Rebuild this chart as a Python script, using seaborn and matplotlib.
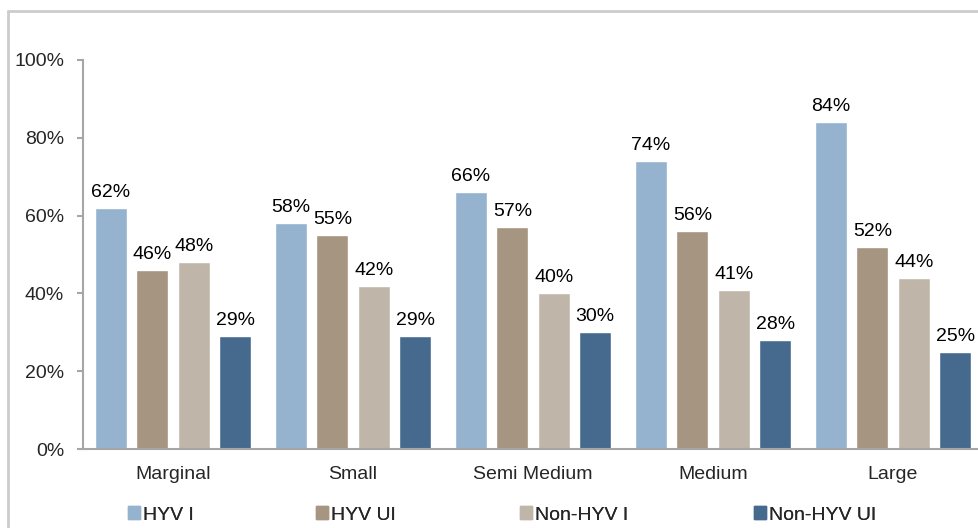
import pandas as pd
import matplotlib.pyplot as plt
import seaborn as sns
from matplotlib.lines import Line2D
from matplotlib.ticker import PercentFormatter

categories = ['Marginal', 'Small', 'Semi Medium', 'Medium', 'Large']
series = ['HYV I', 'HYV UI', 'Non-HYV I', 'Non-HYV UI']
hyv_i = [62, 58, 66, 74, 84]
hyv_ui = [46, 55, 57, 56, 52]
non_hyv_i = [48, 42, 40, 41, 44]
non_hyv_ui = [29, 29, 30, 28, 25]
yticks = [0, 20, 40, 60, 80, 100]

colors = {
    'HYV I': '#95b3cf',
    'HYV UI': '#a69580',
    'Non-HYV I': '#bfb6a9',
    'Non-HYV UI': '#466a8e',
}

data = pd.DataFrame({
    'Category': categories * 4,
    'Series': [s for s in series for _ in categories],
    'Value': hyv_i + hyv_ui + non_hyv_i + non_hyv_ui,
})

sns.set_style('white')
plt.rcParams['font.family'] = ['Liberation Sans', 'DejaVu Sans']

fig = plt.figure(figsize=(9.79, 5.28), dpi=100)
# axis runs a little past the right edge, as in the original crop
ax = fig.add_axes([83 / 979, 1 - 449 / 528, 900 / 979, 389 / 528])

sns.barplot(data=data, x='Category', y='Value', hue='Series',
            order=categories, hue_order=series, palette=colors,
            width=0.92, gap=0.23, saturation=1, legend=False, ax=ax)

for cont in ax.containers:
    ax.bar_label(cont, fmt='%d%%', padding=5, fontsize=14, color='black')

ax.set_ylim(0, 100)
ax.set_yticks(yticks)
ax.yaxis.set_major_formatter(PercentFormatter(decimals=0))
ax.set_xlabel('')
ax.set_ylabel('')
ax.tick_params(axis='y', labelsize=14, length=4.5, width=1.5, color='#a6a6a6',
               direction='out', left=True, pad=9)
ax.tick_params(axis='x', labelsize=14, length=0, pad=12)
for side in ['top', 'right']:
    ax.spines[side].set_visible(False)
for side in ['left', 'bottom']:
    ax.spines[side].set_color('#a6a6a6')
    ax.spines[side].set_linewidth(1.5)

# legend entries sit at uneven spots along the bottom, one legend each
legend_x = [128, 316, 520, 754]
for s, lx in zip(series, legend_x):
    leg = fig.legend([plt.Rectangle((0, 0), 1, 1, color=colors[s])], [s],
                     loc='center left', bbox_to_anchor=(lx / 979, 1 - 515 / 528),
                     frameon=False, fontsize=14, handlelength=0.6, handleheight=0.6,
                     handletextpad=0.15, borderpad=0, borderaxespad=0)
    fig.add_artist(leg)

# outer frame
fig.add_artist(Line2D([8 / 979, 8 / 979], [0, 1 - 11 / 528], color='#cccccc', lw=2))
fig.add_artist(Line2D([8 / 979, 1], [1 - 11 / 528, 1 - 11 / 528], color='#cccccc', lw=2))

fig.savefig('out.png', dpi=100)
